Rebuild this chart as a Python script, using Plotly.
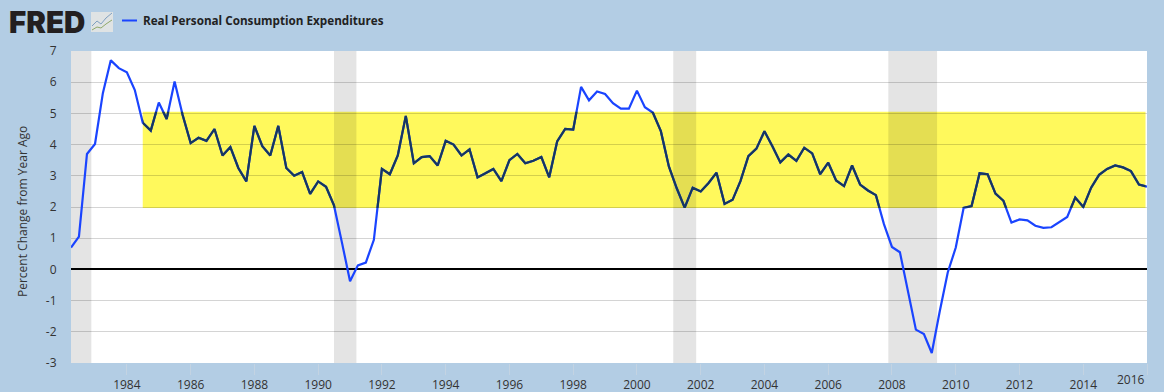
import pandas as pd
import plotly.graph_objects as go

W, H = 1164, 392
L, R, T, B = 71, 1147, 51, 363

values = [
 0.70, 1.05, 3.70, 4.02, 5.65, 6.70, 6.45, 6.32, 5.75, 4.70, 4.45, 5.35, 4.82, 6.02, 4.95,
 4.05, 4.22, 4.12, 4.50, 3.65, 3.92, 3.25, 2.82, 4.60, 3.95, 3.65, 4.60, 3.25, 3.00, 3.12, 2.42,
 2.82, 2.65, 2.05, 0.85, -0.38, 0.13, 0.22, 0.95, 3.22, 3.05, 3.65, 4.92, 3.40, 3.60, 3.63, 3.33,
 4.12, 4.00, 3.65, 3.85, 2.95, 3.08, 3.22, 2.83, 3.50, 3.70, 3.40, 3.48, 3.60, 2.95, 4.10, 4.50,
 4.48, 5.85, 5.42, 5.70, 5.62, 5.33, 5.15, 5.15, 5.73, 5.20, 5.03, 4.43, 3.30, 2.60, 1.98, 2.62,
 2.50, 2.77, 3.10, 2.10, 2.23, 2.83, 3.63, 3.87, 4.43, 3.95, 3.43, 3.68, 3.48, 3.90, 3.72, 3.05,
 3.42, 2.85, 2.67, 3.33, 2.72, 2.53, 2.38, 1.45, 0.72, 0.55, -0.70, -1.93, -2.07, -2.68, -1.35, -0.10,
 0.70, 1.97, 2.03, 3.08, 3.05, 2.43, 2.20, 1.50, 1.60, 1.57, 1.40, 1.33, 1.35, 1.52, 1.68, 2.30,
 2.00, 2.62, 3.03, 3.22, 3.33, 3.27, 3.15, 2.72, 2.65,
]
dates = pd.date_range("1982-04-01", periods=len(values), freq="QS")
recessions = [("1982-04-01", "1982-11-20"), ("1990-07-01", "1991-03-15"),
              ("2001-02-20", "2001-11-10"), ("2007-11-20", "2009-06-01")]
band_x = ("1984-07-01", "2015-12-15")
band_y = (1.97, 5.05)
year_ticks = list(range(1984, 2017, 2))
y_ticks = list(range(-3, 8))
y_range = (-3, 7)
series_name = "Real Personal Consumption Expenditures"
y_title = "Percent Change from Year Ago"

x0, x1 = dates[0], dates[-1]
span = (x1 - x0).total_seconds()
fx = lambda d: (pd.Timestamp(d) - x0).total_seconds() / span
fy = lambda v: (v - y_range[0]) / (y_range[1] - y_range[0])
px = lambda p: (p - L) / (R - L)
py = lambda p: (B - p) / (B - T)

fig = go.Figure()
fig.add_trace(go.Scatter(x=dates, y=values, mode="lines", name=series_name, showlegend=False,
                         line=dict(color="#1a44ff", width=2.2), hoverinfo="skip"))
# same values drawn in dark, clipped to the band by a sub-plot covering only the band
fig.add_trace(go.Scatter(x=dates, y=values, mode="lines", xaxis="x2", yaxis="y2", showlegend=False,
                         line=dict(color="#17375e", width=2.2), hoverinfo="skip"))

shapes = [
    dict(type="rect", xref="paper", yref="paper", x0=0, x1=1, y0=0, y1=1,
         fillcolor="#ffffff", line_width=0, layer="below"),
    dict(type="rect", xref="x", yref="paper", x0=band_x[0], x1=band_x[1], y0=fy(band_y[0]), y1=fy(band_y[1]),
         fillcolor="#fff95c", line_width=0, layer="below"),
]
for a, b in recessions:
    shapes.append(dict(type="rect", xref="x", yref="paper", x0=a, x1=b, y0=0, y1=1,
                       fillcolor="rgba(0,0,0,0.105)", line_width=0, layer="below"))
# small FRED logo icon
shapes.append(dict(type="rect", xref="paper", yref="paper", x0=px(91), x1=px(113), y0=py(32), y1=py(12),
                   fillcolor="#dfe3e4", line_width=0, layer="above"))
shapes.append(dict(type="path", xref="paper", yref="paper", layer="above", line=dict(color="#7f9fc0", width=1),
                   path="M %f %f L %f %f L %f %f L %f %f L %f %f" % (px(92), py(26), px(97), py(21), px(101), py(24), px(106), py(18), px(112), py(13))))
shapes.append(dict(type="path", xref="paper", yref="paper", layer="above", line=dict(color="#8fa86a", width=1),
                   path="M %f %f L %f %f L %f %f L %f %f L %f %f" % (px(92), py(30), px(97), py(27), px(101), py(28), px(106), py(24), px(112), py(20))))
# legend key
shapes.append(dict(type="line", xref="paper", yref="paper", x0=px(122), x1=px(137), y0=py(20.5), y1=py(20.5),
                   line=dict(color="#1a44ff", width=2), layer="above"))

fig.update_layout(
    width=W, height=H, autosize=False,
    margin=dict(l=L, r=W - R, t=T, b=H - B, autoexpand=False),
    paper_bgcolor="#b3cde4", plot_bgcolor="rgba(0,0,0,0)",
    font=dict(family="Open Sans, Noto Sans, sans-serif", size=12, color="#333333"),
    shapes=shapes,
    showlegend=False,
    xaxis=dict(range=[x0, x1], type="date", tickmode="array", automargin=False,
               tickvals=[f"{y}-01-01" for y in year_ticks],
               ticktext=[str(y) if y != 2016 else "" for y in year_ticks],
               ticks="outside", ticklen=11, tickcolor="#c3d3e2", tickwidth=1,
               showgrid=False, showline=False, zeroline=False,
               tickfont=dict(size=12, color="#333333")),
    yaxis=dict(range=list(y_range), tickmode="array", tickvals=y_ticks, automargin=False,
               ticktext=[str(v) for v in y_ticks],
               ticks="outside", ticklen=11, tickcolor="rgba(0,0,0,0)",
               gridcolor="rgba(0,0,0,0.17)", gridwidth=1,
               zeroline=True, zerolinecolor="#000000", zerolinewidth=2, showline=False),
    xaxis2=dict(domain=[fx(band_x[0]), fx(band_x[1])], range=[band_x[0], band_x[1]], type="date",
                anchor="y2", visible=False, showgrid=False),
    yaxis2=dict(domain=[fy(band_y[0]), fy(band_y[1])], range=list(band_y),
                anchor="x2", visible=False, showgrid=False),
    annotations=[
        dict(text=y_title, xref="paper", yref="paper", x=px(23), y=py(212), xanchor="center", yanchor="middle",
             textangle=-90, showarrow=False, font=dict(size=12, color="#333333")),
        dict(text="2016", xref="paper", yref="paper", x=1, y=py(369), xanchor="right", yanchor="top",
             showarrow=False, font=dict(size=12, color="#333333")),
        dict(text="FRED", xref="paper", yref="paper", x=px(7), y=py(22), xanchor="left", yanchor="middle",
             showarrow=False, font=dict(family="Inter, Liberation Sans, sans-serif", size=29.5, weight=900, color="#231f20")),
        dict(text="<b>" + series_name + "</b>", xref="paper", yref="paper", x=px(141), y=py(20.5),
             xanchor="left", yanchor="middle", showarrow=False,
             font=dict(family="Open Sans, sans-serif", size=11.7, color="#222222")),
    ],
)
fig.write_html("out.html", config=dict(displayModeBar=False),
               post_script="document.body.style.margin='0';document.body.style.overflow='hidden';")
